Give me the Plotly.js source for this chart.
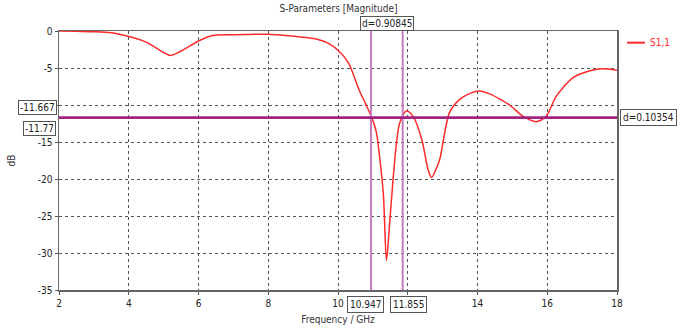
<!DOCTYPE html>
<html>
<head>
<meta charset="utf-8">
<script src="https://cdn.plot.ly/plotly-3.0.1.min.js"></script>
<style>html,body{margin:0;padding:0;background:#fff;}#chart{width:681px;height:332px;}</style>
</head>
<body>
<div id="chart"></div>
<script>
// Frequency (GHz) and S1,1 magnitude (dB)
const freq = [2,2.5,3,3.5,4,4.5,5,5.2,5.5,6,6.4,7,8,8.5,9,9.4,9.7,10,10.3,10.6,10.95,11.1,11.2,11.3,11.39,11.48,11.58,11.68,11.77,11.96,12.15,12.4,12.58,12.68,12.8,12.92,13.2,13.5,13.8,14.06,14.35,14.64,14.92,15.3,15.69,15.97,16.26,16.74,17.2,17.55,18];
const s11 = [0,-0.05,-0.1,-0.25,-0.75,-1.5,-2.9,-3.3,-2.7,-1.35,-0.6,-0.5,-0.45,-0.6,-0.85,-1.12,-1.6,-2.6,-4.3,-7.9,-11.5,-13.7,-17.3,-22,-31,-26,-20,-15,-12.4,-10.8,-11.5,-14.6,-18.7,-19.8,-18.8,-17.3,-11,-9.2,-8.4,-8.1,-8.5,-9.2,-10,-11.5,-12.25,-11.5,-8.8,-6.3,-5.4,-5.1,-5.3];
const seriesName = 'S1,1';
const markerX = [10.947, 11.855];
const markerXLabels = ['10.947', '11.855'];
const markerXDelta = 'd=0.90845';
const markerY = [-11.667, -11.77];
const markerYLabels = ['-11.667', '-11.77'];
const markerYDelta = 'd=0.10354';
// tick labels hidden behind the marker boxes in the reference are left blank
const xTicks = [2,4,6,8,10,12,14,16,18];
const xTickText = ['2','4','6','8','10','','14','16','18'];
const yTicks = [0,-5,-10,-15,-20,-25,-30,-35];
const yTickText = ['0','-5','','-15','-20','-25','-30','-35'];

const FONT = '"DejaVu Sans Condensed", "Liberation Sans Narrow", sans-serif';
const RED = '#ff2a2a';

const shapes = [];
markerX.forEach(function (x) {
  shapes.push({type:'line', xref:'x', yref:'paper', x0:x, x1:x, y0:0, y1:1,
    line:{color:'#c77bbd', width:2}});
});
markerY.forEach(function (y) {
  shapes.push({type:'line', xref:'paper', yref:'y', x0:0, x1:1, y0:y, y1:y,
    line:{color:'#a3217f', width:2}});
});
// legend swatch
shapes.push({type:'line', xref:'paper', yref:'paper', x0:1.018, x1:1.05, y0:0.955, y1:0.955,
  line:{color:RED, width:2}});

const boxFont = {family:FONT, size:10, color:'#222'};
const midX = (markerX[0] + markerX[1]) / 2;
const midY = (markerY[0] + markerY[1]) / 2;
const annotations = [];
annotations.push({xref:'x', yref:'paper', x:midX, xshift:-3, y:-0.025, yanchor:'top', xanchor:'right',
  text:markerXLabels[0], showarrow:false, font:boxFont,
  bgcolor:'#fff', bordercolor:'#555', borderwidth:1, borderpad:2});
annotations.push({xref:'x', yref:'paper', x:midX, xshift:3, y:-0.025, yanchor:'top', xanchor:'left',
  text:markerXLabels[1], showarrow:false, font:boxFont,
  bgcolor:'#fff', bordercolor:'#555', borderwidth:1, borderpad:2});
annotations.push({xref:'paper', yref:'y', x:-0.004, y:midY, yshift:3, xanchor:'right', yanchor:'bottom',
  text:markerYLabels[0], showarrow:false, font:boxFont,
  bgcolor:'#fff', bordercolor:'#555', borderwidth:1, borderpad:1});
annotations.push({xref:'paper', yref:'y', x:-0.006, y:midY, yshift:-3, xanchor:'right', yanchor:'top',
  text:markerYLabels[1], showarrow:false, font:boxFont,
  bgcolor:'#fff', bordercolor:'#555', borderwidth:1, borderpad:1});
annotations.push({xref:'x', yref:'paper', x:midX, y:1.0, yanchor:'bottom', xanchor:'center',
  text:markerXDelta, showarrow:false, font:boxFont,
  bgcolor:'#fff', bordercolor:'#555', borderwidth:1, borderpad:1});
annotations.push({xref:'paper', yref:'y', x:1.006, y:midY, xanchor:'left', yanchor:'middle',
  text:markerYDelta, showarrow:false, font:boxFont,
  bgcolor:'#fff', bordercolor:'#555', borderwidth:1, borderpad:2});
annotations.push({xref:'paper', yref:'paper', x:1.055, y:0.955, xanchor:'left', yanchor:'middle',
  text:seriesName, showarrow:false, font:{family:FONT, size:10, color:RED}});

const data = [{
  x: freq, y: s11, type:'scatter', mode:'lines', name:seriesName,
  line:{color:RED, width:1.5, shape:'spline', smoothing:0.8}
}];

const layout = {
  width:681, height:332,
  margin:{l:59, r:64, t:31, b:42, autoexpand:false},
  paper_bgcolor:'#fff', plot_bgcolor:'#fff',
  font:{family:FONT, size:10, color:'#222'},
  title:{text:'S-Parameters [Magnitude]', x:0.497, xanchor:'center', y:0.975, yanchor:'middle',
    font:{family:FONT, size:10, color:'#333'}},
  showlegend:false,
  xaxis:{range:[2,18], tickvals:xTicks, ticktext:xTickText,
    showgrid:true, gridcolor:'#555', griddash:'dot', gridwidth:1,
    showline:true, linecolor:'#666', linewidth:1.5, mirror:true,
    ticks:'outside', ticklen:3, tickcolor:'#555', zeroline:false,
    title:{text:'Frequency / GHz', standoff:8, font:{family:FONT, size:10, color:'#333'}}},
  yaxis:{range:[-35,0], tickvals:yTicks, ticktext:yTickText,
    showgrid:true, gridcolor:'#555', griddash:'dot', gridwidth:1,
    showline:true, linecolor:'#666', linewidth:1.5, mirror:true,
    ticks:'outside', ticklen:3, tickcolor:'#555', zeroline:false,
    title:{text:'dB', standoff:20, font:{family:FONT, size:10, color:'#333'}}},
  shapes:shapes,
  annotations:annotations
};

Plotly.newPlot('chart', data, layout, {displayModeBar:false, staticPlot:true});
</script>
</body>
</html>
